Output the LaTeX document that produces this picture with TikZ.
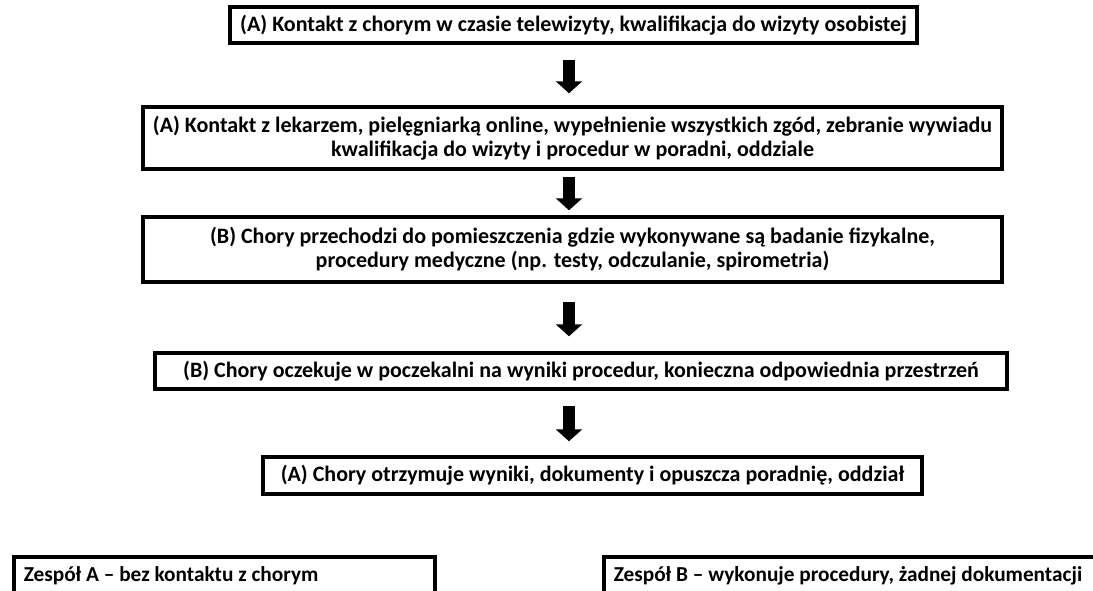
\documentclass[tikz,border=0pt]{standalone}
\usepackage{fontspec}
\setmainfont{Carlito}
\usetikzlibrary{arrows.meta}

\begin{document}
\begin{tikzpicture}[x=1pt, y=-1pt,
	box/.style={draw, line width=3.5pt, inner sep=0pt, align=center, font=\fontsize{22}{24}\selectfont\bfseries},
	team/.style={box, anchor=north west, align=flush left, inner xsep=10pt, minimum height=38, font=\fontsize{21.3}{24}\selectfont\bfseries},
	blockarrow/.style={line width=12pt, -{Triangle[width=26pt, length=12pt]}}]
	\useasboundingbox (0,0) rectangle (1093,590);
	\clip (0,0) rectangle (1093,590);
	\fill[white] (0,0) rectangle (1093,590);
	% steps
	\node[box, minimum width=687, minimum height=36] (kontakt) at (573.5,25) {(A) Kontakt z chorym w czasie telewizyty, kwalifikacja do wizyty osobistej};
	\node[box, minimum width=859, minimum height=62] (lekarz) at (572.5,138) {(A) Kontakt z lekarzem, pielęgniarką online, wypełnienie wszystkich zgód, zebranie wywiadu\\kwalifikacja do wizyty i procedur w poradni, oddziale};
	\node[box, minimum width=859, minimum height=65] (badanie) at (572.5,249.5) {(B) Chory przechodzi do pomieszczenia gdzie wykonywane są badanie fizykalne,\\procedury medyczne (np. testy, odczulanie, spirometria)};
	\node[box, minimum width=852, minimum height=36] (poczekalnia) at (581,371) {(B) Chory oczekuje w poczekalni na wyniki procedur, konieczna odpowiednia przestrzeń};
	\node[box, minimum width=659, minimum height=37] (wyniki) at (592.5,475.5) {(A) Chory otrzymuje wyniki, dokumenty i opuszcza poradnię, oddział};
	% teams
	\node[team, text width=401] (zespolA) at (12,555) {Zespół A -- bez kontaktu z chorym};
	\node[team, text width=540] (zespolB) at (602,555) {Zespół B -- wykonuje procedury, żadnej dokumentacji};
	% arrows
	\coordinate (pfeil) at (569,0);
	\draw[blockarrow, shorten <=15pt, shorten >=12pt] (kontakt.south -| pfeil) -- (lekarz.north -| pfeil);
	\draw[blockarrow, shorten <=6pt, shorten >=5pt] (lekarz.south -| pfeil) -- (badanie.north -| pfeil);
	\draw[blockarrow, shorten <=18pt, shorten >=15pt] (badanie.south -| pfeil) -- (poczekalnia.north -| pfeil);
	\draw[blockarrow, shorten <=15pt, shorten >=14pt] (poczekalnia.south -| pfeil) -- (wyniki.north -| pfeil);
\end{tikzpicture}
\end{document}
